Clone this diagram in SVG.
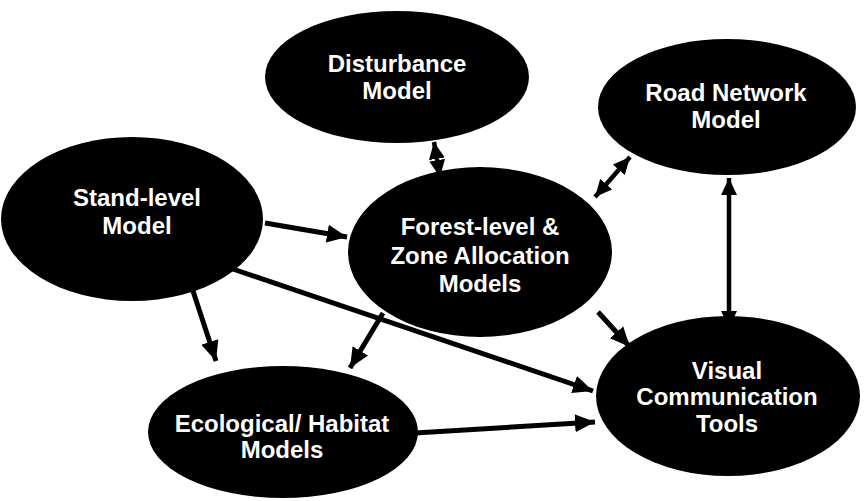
<svg xmlns="http://www.w3.org/2000/svg" width="866" height="501" viewBox="0 0 866 501">
<defs>
<marker id="ah" viewBox="0 0 20 20" refX="20" refY="10" markerWidth="20" markerHeight="20" markerUnits="userSpaceOnUse" orient="auto-start-reverse">
<path d="M0,1 L20,10 L0,19 Z" fill="#000"/>
</marker>
<marker id="ahs" viewBox="0 0 17 17" refX="17" refY="8.5" markerWidth="17" markerHeight="17" markerUnits="userSpaceOnUse" orient="auto-start-reverse">
<path d="M0,0.5 L17,8.5 L0,16.5 Z" fill="#000"/>
</marker>
<style>
.n{fill:#000}
.t{fill:#fff;font-family:"Liberation Sans",Arial,sans-serif;font-weight:bold;font-size:24px;text-anchor:middle}
.c{stroke:#000;stroke-width:5;fill:none}
.d{stroke:#000;stroke-width:4.5;fill:none}
</style>
</defs>
<rect width="866" height="501" fill="#fff"/>
<g id="connectors">
<line class="d" x1="434" y1="142" x2="440" y2="177" marker-start="url(#ahs)" marker-end="url(#ahs)"/>
<line class="d" x1="630" y1="157" x2="595" y2="197" marker-start="url(#ahs)" marker-end="url(#ahs)"/>
<line class="d" x1="729" y1="178" x2="729" y2="328" marker-start="url(#ahs)" marker-end="url(#ahs)"/>
<line class="c" x1="265" y1="223" x2="347" y2="237" marker-end="url(#ah)"/>
<line class="c" x1="227" y1="267" x2="593" y2="391" marker-end="url(#ah)"/>
<line class="c" x1="192" y1="288" x2="216" y2="361" marker-end="url(#ah)"/>
<line class="c" x1="383" y1="313" x2="350" y2="368" marker-end="url(#ah)"/>
<line class="c" x1="598" y1="312" x2="630" y2="347" marker-end="url(#ah)"/>
<line class="c" x1="415" y1="433" x2="595" y2="422" marker-end="url(#ah)"/>
</g>
<g id="disturbance">
<ellipse class="n" cx="397" cy="77" rx="132" ry="66"/>
<text class="t" x="397" y="72">Disturbance</text>
<text class="t" x="397" y="99">Model</text>
</g>
<g id="road">
<ellipse class="n" cx="727" cy="107" rx="129" ry="68"/>
<text class="t" x="726" y="101">Road Network</text>
<text class="t" x="726" y="128">Model</text>
</g>
<g id="stand">
<ellipse class="n" cx="132" cy="219" rx="131" ry="82"/>
<text class="t" x="137" y="206">Stand-level</text>
<text class="t" x="137" y="234">Model</text>
</g>
<g id="forest">
<ellipse class="n" cx="480" cy="252" rx="132" ry="85"/>
<text class="t" x="480" y="235">Forest-level &amp;</text>
<text class="t" x="480" y="264">Zone Allocation</text>
<text class="t" x="480" y="292">Models</text>
</g>
<g id="visual">
<ellipse class="n" cx="728" cy="396" rx="132" ry="80"/>
<text class="t" x="727" y="379">Visual</text>
<text class="t" x="727" y="405">Communication</text>
<text class="t" x="727" y="432">Tools</text>
</g>
<g id="ecological">
<ellipse class="n" cx="283" cy="432" rx="135" ry="66"/>
<text class="t" x="282" y="432">Ecological/ Habitat</text>
<text class="t" x="282" y="458">Models</text>
</g>
</svg>
